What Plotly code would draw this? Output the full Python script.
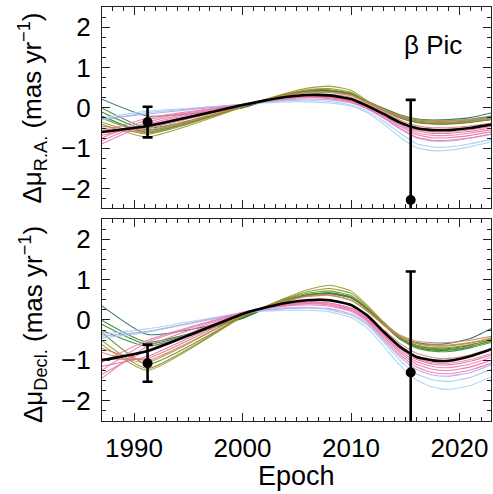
import plotly.graph_objects as go

# Epoch grid on which every orbit's proper-motion offset is tabulated
epochs = [1987, 1991.25, 2000, 2002, 2004, 2006, 2008, 2010, 2011.5, 2013,
          2014.5, 2016, 2017.5, 2019, 2021, 2023]

# Best-fitting orbit (mas/yr)
ra_best = [-0.60, -0.45, 0.07, 0.18, 0.27, 0.32, 0.31, 0.22, 0.05, -0.15,
           -0.36, -0.50, -0.55, -0.55, -0.50, -0.41]
dec_best = [-1.00, -0.77, 0.15, 0.30, 0.42, 0.49, 0.49, 0.37, 0.11, -0.29,
            -0.66, -0.91, -1.00, -1.01, -0.90, -0.72]

# Colour of each random orbit draw (same order in both panels)
orbit_colors = [
    "rgb(30,105,100)",   # teal
    "rgb(40,130,50)",    # green
    "rgb(45,125,45)",
    "rgb(60,140,55)",
    "rgb(110,140,30)",   # olive-green
    "rgb(150,150,40)",   # olive
    "rgb(140,140,35)",
    "rgb(200,140,95)",   # brown
    "rgb(195,135,90)",
    "rgb(225,120,125)",  # salmon
    "rgb(165,212,240)",  # light blue
    "rgb(160,205,238)",
    "rgb(190,160,240)",  # lavender
    "rgb(235,120,170)",  # pink
    "rgb(232,115,165)",
    "rgb(238,125,175)",
    "rgb(230,110,160)",
    "rgb(236,128,172)",
]

ra_orbits = [
    [0.22, -0.20, 0.00, 0.16, 0.30, 0.39, 0.41, 0.34, 0.16, -0.01, -0.17, -0.27, -0.30, -0.29, -0.24, -0.12],
    [-0.10, -0.55, 0.02, 0.18, 0.32, 0.41, 0.43, 0.35, 0.15, -0.04, -0.22, -0.32, -0.36, -0.36, -0.32, -0.24],
    [-0.20, -0.60, 0.03, 0.18, 0.32, 0.40, 0.42, 0.33, 0.13, -0.06, -0.25, -0.36, -0.40, -0.40, -0.36, -0.29],
    [0.00, -0.50, 0.01, 0.17, 0.31, 0.40, 0.42, 0.35, 0.16, -0.02, -0.19, -0.28, -0.32, -0.32, -0.28, -0.20],
    [-0.25, -0.62, 0.03, 0.19, 0.33, 0.43, 0.45, 0.36, 0.15, -0.05, -0.24, -0.35, -0.39, -0.39, -0.35, -0.28],
    [-0.40, -0.72, 0.02, 0.20, 0.36, 0.49, 0.54, 0.44, 0.18, -0.02, -0.19, -0.29, -0.33, -0.33, -0.30, -0.22],
    [-0.35, -0.65, 0.03, 0.20, 0.34, 0.45, 0.48, 0.39, 0.16, -0.04, -0.22, -0.33, -0.37, -0.37, -0.34, -0.27],
    [-0.50, -0.60, 0.04, 0.19, 0.31, 0.39, 0.40, 0.32, 0.14, -0.04, -0.19, -0.28, -0.31, -0.31, -0.29, -0.24],
    [-0.45, -0.55, 0.05, 0.19, 0.30, 0.37, 0.38, 0.30, 0.12, -0.07, -0.23, -0.33, -0.36, -0.36, -0.33, -0.27],
    [-0.55, -0.50, 0.06, 0.18, 0.28, 0.34, 0.34, 0.26, 0.09, -0.10, -0.30, -0.44, -0.49, -0.49, -0.45, -0.37],
    [-0.25, -0.08, 0.08, 0.12, 0.15, 0.15, 0.12, 0.04, -0.12, -0.40, -0.72, -0.98, -1.06, -1.05, -0.96, -0.84],
    [-0.30, -0.12, 0.09, 0.14, 0.18, 0.19, 0.16, 0.07, -0.08, -0.33, -0.62, -0.88, -0.97, -0.97, -0.89, -0.78],
    [-0.28, -0.15, 0.09, 0.15, 0.20, 0.22, 0.20, 0.12, -0.03, -0.26, -0.52, -0.74, -0.82, -0.82, -0.75, -0.65],
    [-0.90, -0.40, 0.08, 0.16, 0.22, 0.25, 0.23, 0.14, -0.02, -0.24, -0.50, -0.72, -0.80, -0.80, -0.74, -0.64],
    [-0.82, -0.35, 0.08, 0.17, 0.24, 0.27, 0.25, 0.16, 0.00, -0.21, -0.45, -0.66, -0.74, -0.74, -0.68, -0.59],
    [-0.75, -0.30, 0.08, 0.17, 0.25, 0.28, 0.27, 0.18, 0.02, -0.19, -0.42, -0.61, -0.68, -0.68, -0.62, -0.54],
    [-0.68, -0.42, 0.07, 0.17, 0.25, 0.29, 0.28, 0.19, 0.03, -0.17, -0.39, -0.56, -0.63, -0.63, -0.58, -0.50],
    [-0.60, -0.25, 0.09, 0.18, 0.26, 0.30, 0.29, 0.20, 0.04, -0.16, -0.37, -0.53, -0.59, -0.59, -0.54, -0.46],
]

dec_orbits = [
    [0.36, -0.36, 0.04, 0.27, 0.46, 0.60, 0.65, 0.55, 0.28, -0.08, -0.40, -0.56, -0.60, -0.58, -0.46, -0.20],
    [-0.10, -0.60, 0.06, 0.29, 0.49, 0.63, 0.68, 0.57, 0.28, -0.10, -0.44, -0.63, -0.70, -0.71, -0.62, -0.48],
    [0.00, -0.55, 0.05, 0.28, 0.48, 0.61, 0.66, 0.55, 0.27, -0.11, -0.46, -0.66, -0.74, -0.75, -0.66, -0.52],
    [-0.25, -0.65, 0.06, 0.29, 0.48, 0.62, 0.66, 0.55, 0.26, -0.12, -0.48, -0.69, -0.77, -0.78, -0.69, -0.55],
    [-0.30, -1.10, 0.09, 0.31, 0.51, 0.66, 0.72, 0.60, 0.29, -0.10, -0.45, -0.65, -0.72, -0.73, -0.65, -0.52],
    [-0.60, -1.25, 0.08, 0.32, 0.55, 0.75, 0.86, 0.72, 0.36, -0.05, -0.40, -0.58, -0.64, -0.64, -0.57, -0.44],
    [-0.50, -1.20, 0.09, 0.32, 0.53, 0.70, 0.78, 0.66, 0.32, -0.08, -0.43, -0.62, -0.68, -0.68, -0.61, -0.49],
    [-0.80, -1.05, 0.12, 0.31, 0.48, 0.60, 0.63, 0.50, 0.23, -0.10, -0.37, -0.52, -0.56, -0.56, -0.50, -0.40],
    [-0.70, -1.00, 0.12, 0.31, 0.47, 0.58, 0.61, 0.48, 0.21, -0.13, -0.41, -0.57, -0.62, -0.62, -0.56, -0.45],
    [-0.95, -0.95, 0.14, 0.30, 0.43, 0.51, 0.51, 0.38, 0.13, -0.24, -0.58, -0.82, -0.93, -0.95, -0.86, -0.70],
    [-0.35, -0.22, 0.18, 0.22, 0.24, 0.24, 0.20, 0.06, -0.20, -0.65, -1.12, -1.48, -1.66, -1.72, -1.62, -1.40],
    [-0.45, -0.30, 0.17, 0.24, 0.28, 0.29, 0.25, 0.12, -0.12, -0.55, -1.00, -1.33, -1.48, -1.52, -1.42, -1.22],
    [-0.40, -0.28, 0.18, 0.25, 0.30, 0.31, 0.28, 0.15, -0.08, -0.50, -0.92, -1.22, -1.36, -1.39, -1.30, -1.10],
    [-1.45, -0.65, 0.18, 0.28, 0.35, 0.37, 0.34, 0.21, -0.03, -0.45, -0.86, -1.16, -1.30, -1.33, -1.24, -1.06],
    [-1.35, -0.75, 0.17, 0.28, 0.36, 0.40, 0.37, 0.24, 0.00, -0.40, -0.80, -1.09, -1.22, -1.25, -1.16, -0.99],
    [-1.25, -0.55, 0.18, 0.29, 0.37, 0.41, 0.39, 0.26, 0.02, -0.37, -0.75, -1.03, -1.15, -1.18, -1.09, -0.92],
    [-1.15, -0.90, 0.16, 0.29, 0.39, 0.44, 0.42, 0.29, 0.05, -0.33, -0.70, -0.97, -1.09, -1.11, -1.02, -0.86],
    [-1.05, -0.50, 0.19, 0.31, 0.40, 0.44, 0.42, 0.29, 0.06, -0.32, -0.68, -0.94, -1.05, -1.07, -0.98, -0.82],
]

# Hipparcos and Gaia proper-motion measurements (relative to the barycentre)
obs_epochs = [1991.25, 2015.5]
ra_obs = [-0.35, -2.28]
ra_err = [0.38, 2.48]
dec_obs = [-1.07, -1.30]
dec_err = [0.46, 2.50]

FONT = "Liberation Sans, Arial, Helvetica, sans-serif"

fig = go.Figure()

panels = [
    ("x", "y", ra_orbits, ra_best, ra_obs, ra_err),
    ("x2", "y2", dec_orbits, dec_best, dec_obs, dec_err),
]
for xa, ya, orbits, best, obs, err in panels:
    for vals, col in zip(orbits, orbit_colors):
        fig.add_trace(go.Scatter(
            x=epochs, y=vals, mode="lines", xaxis=xa, yaxis=ya,
            line=dict(color=col, width=1.1, shape="spline", smoothing=0.5),
            opacity=0.9, showlegend=False, hoverinfo="skip"))
    fig.add_trace(go.Scatter(
        x=epochs, y=best, mode="lines", xaxis=xa, yaxis=ya,
        line=dict(color="black", width=2.6, shape="spline", smoothing=0.5),
        showlegend=False))
    fig.add_trace(go.Scatter(
        x=obs_epochs, y=obs, mode="markers", xaxis=xa, yaxis=ya,
        marker=dict(color="black", size=10),
        error_y=dict(type="data", array=err, color="black",
                     thickness=2.6, width=5),
        showlegend=False))

axis_common = dict(
    showline=True, linecolor="#222", linewidth=1.3, mirror="allticks",
    ticks="inside", ticklen=8, tickwidth=1.3, tickcolor="#222",
    showgrid=False, zeroline=False,
    tickfont=dict(family=FONT, size=26, color="black"),
)
minor_x = dict(dtick=1, ticklen=4, ticks="inside", tickcolor="#222",
               tickwidth=1.1)
minor_y = dict(dtick=0.25, ticklen=4, ticks="inside", tickcolor="#222",
               tickwidth=1.1)

xrange_ = [1987.05, 2022.9]
fig.update_layout(
    width=493, height=494,
    margin=dict(l=102, r=2, t=7, b=73),
    plot_bgcolor="white", paper_bgcolor="white",
    xaxis=dict(axis_common, range=xrange_, anchor="y", dtick=10,
               showticklabels=False, minor=minor_x),
    yaxis=dict(axis_common, range=[-2.48, 2.5], domain=[0.5145, 1.0],
               anchor="x", dtick=1, ticklabelstandoff=5, minor=minor_y),
    xaxis2=dict(axis_common, range=xrange_, anchor="y2",
                tickvals=[1990, 2000, 2010, 2020], ticklabelstandoff=4,
                minor=minor_x),
    yaxis2=dict(axis_common, range=[-2.5, 2.5], domain=[0.0, 0.488],
                anchor="x2", dtick=1, ticklabelstandoff=5, minor=minor_y),
)

title_font = dict(family=FONT, size=26, color="black")
fig.add_annotation(
    text="Δμ<sub>R.A.</sub> (mas yr<sup>−1</sup>)", textangle=-90,
    xref="paper", yref="paper", x=-(102 - 33) / 389, y=(421 - 108.5) / 414,
    xanchor="center", yanchor="middle", showarrow=False, font=title_font)
fig.add_annotation(
    text="Δμ<sub>Decl.</sub> (mas yr<sup>−1</sup>)", textangle=-90,
    xref="paper", yref="paper", x=-(102 - 33) / 389, y=(421 - 325) / 414,
    xanchor="center", yanchor="middle", showarrow=False, font=title_font)
fig.add_annotation(
    text="Epoch", xref="paper", yref="paper",
    x=0.5, y=(421 - 476) / 414, xanchor="center", yanchor="middle",
    showarrow=False, font=dict(family=FONT, size=27, color="black"))
fig.add_annotation(
    text="β Pic", xref="paper", yref="paper",
    x=(433 - 102) / 389, y=(421 - 45) / 414, xanchor="center",
    yanchor="middle", showarrow=False,
    font=dict(family=FONT, size=26, color="black"))

fig.write_html("out.html")
